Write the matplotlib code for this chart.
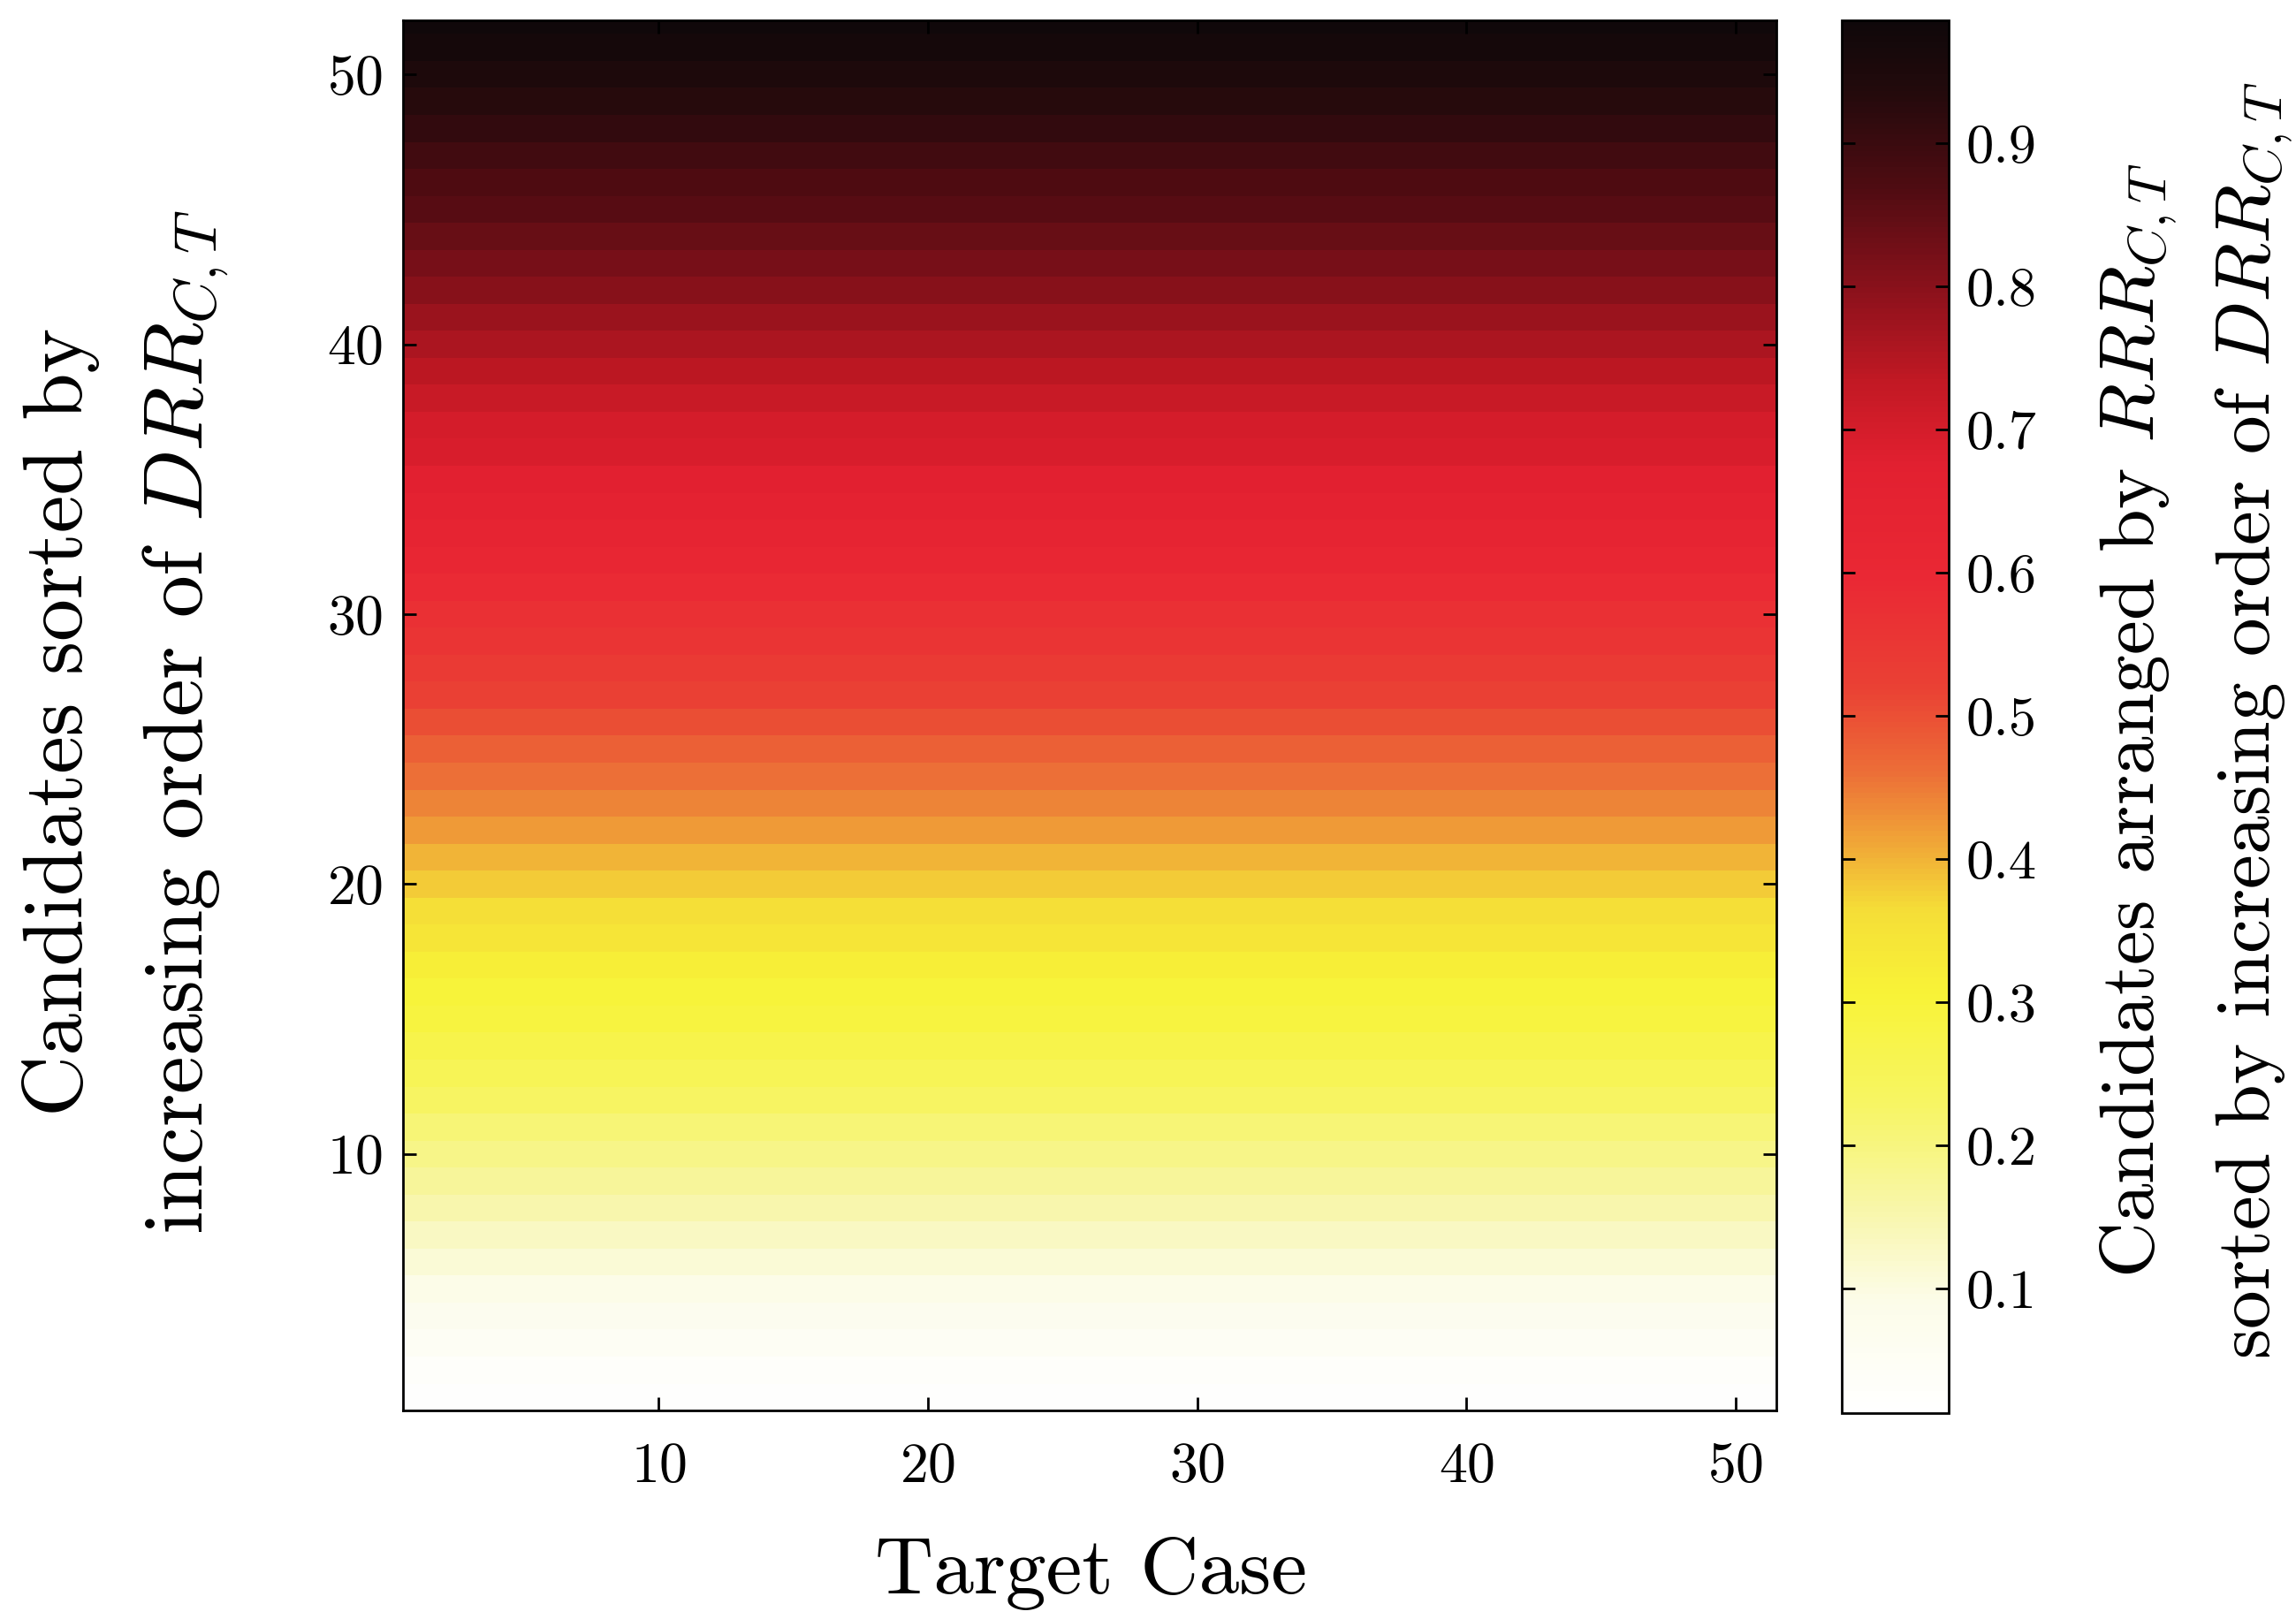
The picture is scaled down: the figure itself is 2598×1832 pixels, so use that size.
import numpy as np
import matplotlib
matplotlib.use("Agg")
import matplotlib.pyplot as plt
from matplotlib.colors import LinearSegmentedColormap

plt.rcParams['font.family'] = ['cmr10', 'DejaVu Serif']
plt.rcParams['mathtext.fontset'] = 'cm'
plt.rcParams['axes.formatter.use_mathtext'] = True

# target cases (columns) and candidates (rows)
target_cases = list(range(1, 52))
candidates = list(range(1, 53))

# RRR value read per candidate row (roughly constant across target cases)
row_values = [0.02, 0.03, 0.05, 0.07, 0.09, 0.11, 0.13, 0.15, 0.17, 0.19,
              0.21, 0.23, 0.25, 0.27, 0.29, 0.30, 0.32, 0.34, 0.36, 0.38,
              0.40, 0.42, 0.44, 0.46, 0.48, 0.50, 0.52, 0.54, 0.56, 0.57,
              0.59, 0.61, 0.63, 0.65, 0.67, 0.69, 0.70, 0.72, 0.74, 0.76,
              0.78, 0.80, 0.82, 0.84, 0.86, 0.87, 0.89, 0.91, 0.93, 0.95,
              0.97, 0.98]

x_ticks = [10, 20, 30, 40, 50]
y_ticks = [10, 20, 30, 40, 50]
cbar_ticks = [0.1, 0.2, 0.3, 0.4, 0.5, 0.6, 0.7, 0.8, 0.9]
vmin, vmax = 0.013, 0.986

# colour stops
stops = [
    (0.00, (255, 255, 255)),
    (0.08, (252, 252, 232)),
    (0.15, (248, 246, 165)),
    (0.22, (247, 245, 100)),
    (0.30, (248, 243, 55)),
    (0.36, (245, 222, 55)),
    (0.41, (240, 165, 55)),
    (0.46, (236, 110, 55)),
    (0.52, (234, 65, 52)),
    (0.60, (234, 40, 52)),
    (0.68, (226, 32, 48)),
    (0.74, (195, 25, 36)),
    (0.80, (145, 18, 28)),
    (0.88, (80, 12, 18)),
    (0.95, (35, 10, 12)),
    (1.00, (15, 8, 10)),
]
cmap = LinearSegmentedColormap.from_list(
    'rrr', [(p, tuple(c / 255 for c in rgb)) for p, rgb in stops])

data = np.tile(np.array(row_values)[:, None], (1, len(target_cases)))

fig = plt.figure(figsize=(25.98, 18.32), dpi=100)
ax = fig.add_axes([0.1755, 0.1288, 0.598, 0.8586])
im = ax.imshow(data, cmap=cmap, vmin=vmin, vmax=vmax, origin='lower',
               aspect='auto', interpolation='nearest',
               extent=(target_cases[0] - 0.5, target_cases[-1] + 0.5,
                       candidates[0] - 0.5, candidates[-1] + 0.5))
ax.set_xlim(0.5, 51.5)
ax.set_ylim(0.5, 52.0)
ax.set_xticks(x_ticks)
ax.set_yticks(y_ticks)
ax.tick_params(direction='in', length=11, width=2, labelsize=46,
               top=True, right=True)
ax.tick_params(axis='x', pad=26)
ax.tick_params(axis='y', pad=16)
for s in ax.spines.values():
    s.set_linewidth(2)

cax = fig.add_axes([0.8022, 0.1272, 0.0466, 0.8603])
cb = fig.colorbar(im, cax=cax)
cb.set_ticks(cbar_ticks)
cb.set_ticklabels([f'{t:.1f}' for t in cbar_ticks])
cax.tick_params(direction='in', length=11, width=2, labelsize=45, pad=14,
                left=True, right=True)
cb.outline.set_linewidth(2)

fig.text(0.475, 0.028, 'Target Case', fontsize=66, ha='center',
         va='center')

# y label, two lines
fig.text(0.0265, 0.554, 'Candidates sorted by',
         rotation=90, fontsize=69, ha='center', va='center')
fig.text(0.081, 0.554, 'increasing order of $DRR_{C,T}$',
         rotation=90, fontsize=69, ha='center', va='center')

# colour bar label, two lines
fig.text(0.9315, 0.555, 'Candidates arranged by $RRR_{C,T}$',
         rotation=90, fontsize=63, ha='center', va='center')
fig.text(0.9815, 0.555, 'sorted by increasing order of $DRR_{C,T}$',
         rotation=90, fontsize=63, ha='center', va='center')

fig.savefig('out.png', dpi=100)
